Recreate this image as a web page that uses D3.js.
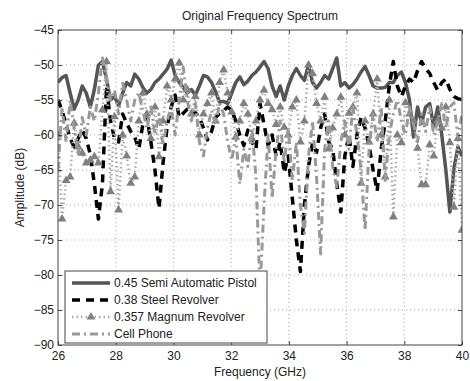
<!DOCTYPE html>
<html>
<head>
<meta charset="utf-8">
<script src="https://cdn.jsdelivr.net/npm/d3@7"></script>
<style>
  body { margin: 0; background: #fff; }
  svg { font-family: "Liberation Sans", Arial, sans-serif; }
</style>
</head>
<body>
<div id="chart"></div>
<script>
// frequency samples, 26..40 GHz
const freqStart = 26, freqStep = 0.14, nPoints = 101;

const pistol = [
  -52.5, -51.8, -51.5, -54, -56.3, -55, -53, -54, -56, -53.5,
  -50, -49.5, -52, -55, -54.5, -55.8, -54, -52.5, -53, -51.3,
  -52, -53.2, -54, -53.5, -52.5, -52, -51.3, -50.6, -49.3, -51.5,
  -52.5, -53.2, -54, -53.5, -54.3, -53, -51.5, -51.7, -52.5, -53.8,
  -55.3, -55.2, -55.5, -54, -52.5, -51.7, -52.8, -52.3, -51.5, -51,
  -50.3, -49.5, -50.5, -53, -54.5, -53, -55, -53, -51.5, -50.5,
  -51.5, -52.2, -50, -52.5, -53.3, -52.5, -51.5, -52, -50.5, -49,
  -53, -52.5, -53.3, -52.8, -52, -51, -50.2, -51.5, -53, -53.3,
  -53.3, -53.2, -52.5, -52.5, -51.5, -51, -52.5, -55, -60.3, -56,
  -58.3, -56, -55.5, -58.8, -56, -60, -65, -71, -64.8, -61.7,
  -63
];

const steel = [
  -55, -56.5, -58.5, -60.5, -61.7, -60.5, -59.3, -60.5, -62.8, -67,
  -72, -67, -53, -58, -60.5, -61, -57, -58.3, -59.5, -60.3,
  -62, -58.5, -57.4, -61, -65, -70.5, -64, -58.9, -56, -54.3,
  -57.5, -56.9, -56.3, -57, -56.8, -57.5, -59, -60.7, -59.5, -57.5,
  -56.9, -56.5, -56, -56.5, -58, -60, -61.5, -59.3, -61, -62,
  -55.5, -58.5, -61.5, -60, -63, -61, -65.4, -63, -69, -75,
  -79.5, -70, -64.5, -61.2, -62.5, -59, -57, -61, -62, -67,
  -71, -63, -60, -64.5, -60, -57.5, -59, -61.5, -65, -68,
  -62, -58, -53, -49.5, -53, -54.5, -53, -52, -52.5, -50.8,
  -49.5, -50.5, -51.2, -52.5, -53.6, -52.5, -52, -53.5, -54.5, -54.8,
  -55
];

const magnum = [
  -60, -72, -66.5, -66, -58.3, -61.7, -62.6, -64, -63.6, -63.1,
  -64, -56.4, -49.5, -68.1, -57.4, -70.7, -60, -63, -66.9, -66,
  -58, -54, -57, -60.5, -56, -63.1, -58, -53, -55, -52,
  -49.7, -55, -53.5, -57, -54.5, -60, -57, -55.5, -54, -58,
  -52.5, -50.7, -54, -56.7, -60.3, -58, -55.5, -57, -60.5, -58,
  -55, -53.6, -55.5, -56.4, -58.5, -56, -58.9, -60, -56, -55,
  -61, -58, -50, -51.2, -55.5, -58, -54.6, -62, -59, -57,
  -54.6, -60, -56.9, -56, -54, -66.9, -58, -61, -57, -52,
  -60, -66, -55, -71.7, -60, -61.1, -55.4, -57, -58, -61.9,
  -67.1, -67.1, -61.4, -63, -57.9, -59, -56, -61.1, -70.3, -60.5,
  -73.6
];

const cellPhone = [
  -65, -56, -61, -55, -59, -63, -57.5, -60, -56, -58,
  -54, -49, -52, -55, -53.6, -57, -52.6, -55, -58, -55,
  -54, -56.5, -59, -56, -60, -57, -61.5, -58, -56, -60,
  -55, -50.3, -55, -58, -55.5, -61, -63, -59, -56.5, -58.5,
  -55.5, -57, -61, -63.6, -60.3, -67, -62, -64.5, -59, -66,
  -82, -70, -60, -69, -62, -58, -64, -59, -66.5, -61,
  -70, -74, -63, -58, -66, -77, -62, -58, -64.6, -67.4,
  -61, -58, -62, -56, -60, -65, -73.6, -62, -57, -61,
  -56, -66.5, -60, -57, -55, -58, -60, -56, -58.5, -61,
  -57, -59.5, -56, -60, -58, -55.5, -59, -56, -55.4, -60.3,
  -57
];

const seriesNames = ['0.45 Semi Automatic Pistol', '0.38 Steel Revolver', '0.357 Magnum Revolver', 'Cell Phone'];
const xTicks = [26, 28, 30, 32, 34, 36, 38, 40];
const yTicks = [-45, -50, -55, -60, -65, -70, -75, -80, -85, -90];

const freqs = d3.range(nPoints).map(i => freqStart + freqStep * i);

const width = 470, height = 381;
const margin = {top: 30, right: 8, bottom: 36, left: 58};
const innerW = width - margin.left - margin.right;
const innerH = height - margin.top - margin.bottom;

const svg = d3.select('#chart').append('svg')
    .attr('width', width)
    .attr('height', height);

const g = svg.append('g')
    .attr('transform', `translate(${margin.left}, ${margin.top})`);

const x = d3.scaleLinear().domain([26, 40]).range([0, innerW]);
const y = d3.scaleLinear().domain([-90, -45]).range([innerH, 0]);

// grid
g.append('g').selectAll('line').data(xTicks.slice(1, -1)).enter().append('line')
    .attr('x1', d => x(d)).attr('x2', d => x(d))
    .attr('y1', 0).attr('y2', innerH)
    .attr('stroke', '#aaa').attr('stroke-width', 1).attr('stroke-dasharray', '1,3');
g.append('g').selectAll('line').data(yTicks.slice(1, -1)).enter().append('line')
    .attr('x1', 0).attr('x2', innerW)
    .attr('y1', d => y(d)).attr('y2', d => y(d))
    .attr('stroke', '#aaa').attr('stroke-width', 1).attr('stroke-dasharray', '1,3');

svg.append('clipPath').attr('id', 'clip')
    .append('rect').attr('width', innerW).attr('height', innerH);

const plot = g.append('g').attr('clip-path', 'url(#clip)');

const line = d3.line()
    .x((d, i) => x(freqs[i]))
    .y(d => y(d));

const styles = [
  {data: pistol, color: '#555', width: 3.5, dash: null},
  {data: steel, color: '#000', width: 3.5, dash: '8,6'},
  {data: magnum, color: '#aaa', width: 2.5, dash: '1.5,3'},
  {data: cellPhone, color: '#999', width: 3, dash: '8,4,2,4'}
];

const tri = d3.symbol().type(d3.symbolTriangle).size(34);

styles.forEach((s, k) => {
  plot.append('path')
      .datum(s.data)
      .attr('fill', 'none')
      .attr('stroke', s.color)
      .attr('stroke-width', s.width)
      .attr('stroke-dasharray', s.dash)
      .attr('stroke-linejoin', 'round')
      .attr('d', line);
  if (k === 2) {
    plot.append('g').selectAll('path').data(s.data).enter().append('path')
        .attr('d', tri)
        .attr('transform', (d, i) => `translate(${x(freqs[i])}, ${y(d)})`)
        .attr('fill', '#808080');
  }
});

// axes
g.append('g')
    .attr('transform', `translate(0, ${innerH})`)
    .call(d3.axisBottom(x).tickValues(xTicks).tickSizeInner(-4).tickSizeOuter(0).tickPadding(6));
g.append('g')
    .call(d3.axisTop(x).tickValues(xTicks).tickSizeInner(-4).tickSizeOuter(0).tickFormat(''));
g.append('g')
    .call(d3.axisLeft(y).tickValues(yTicks).tickSizeInner(-4).tickSizeOuter(0).tickPadding(4)
      .tickFormat(d => d3.format('d')(d).replace('-', '\u2212')));
g.append('g')
    .attr('transform', `translate(${innerW}, 0)`)
    .call(d3.axisRight(y).tickValues(yTicks).tickSizeInner(-4).tickSizeOuter(0).tickFormat(''));

g.selectAll('.domain').remove();
g.selectAll('.tick line').attr('stroke', '#444');
g.selectAll('.tick text').attr('fill', '#222').style('font-size', '12px');

g.append('rect')
    .attr('width', innerW).attr('height', innerH)
    .attr('fill', 'none').attr('stroke', '#444').attr('stroke-width', 1);

// legend
const legend = g.append('g').attr('transform', `translate(7, ${innerH - 74})`);
legend.append('rect')
    .attr('width', 202).attr('height', 72)
    .attr('fill', '#fff').attr('stroke', '#444').attr('stroke-width', 1);
seriesNames.forEach((name, k) => {
  const s = styles[k];
  const ly = 12 + k * 17;
  legend.append('line')
      .attr('x1', 7).attr('x2', 45).attr('y1', ly).attr('y2', ly)
      .attr('stroke', s.color).attr('stroke-width', s.width)
      .attr('stroke-dasharray', s.dash);
  if (k === 2) {
    legend.append('path').attr('d', tri)
        .attr('transform', `translate(26, ${ly})`).attr('fill', '#808080');
  }
  legend.append('text')
      .attr('x', 49).attr('y', ly + 4)
      .style('font-size', '12px').attr('fill', '#222')
      .text(name);
});

svg.append('text')
    .attr('x', margin.left + innerW / 2).attr('y', 20)
    .style('text-anchor', 'middle').style('font-size', '12px').attr('fill', '#222')
    .text('Original Frequency Spectrum');

svg.append('text')
    .attr('x', margin.left + innerW / 2).attr('y', 376)
    .style('text-anchor', 'middle').style('font-size', '12px').attr('fill', '#222')
    .text('Frequency (GHz)');

svg.append('text')
    .attr('transform', `translate(24, ${margin.top + innerH / 2}) rotate(-90)`)
    .style('text-anchor', 'middle').style('font-size', '12px').attr('fill', '#222')
    .text('Amplitude (dB)');
</script>
</body>
</html>
